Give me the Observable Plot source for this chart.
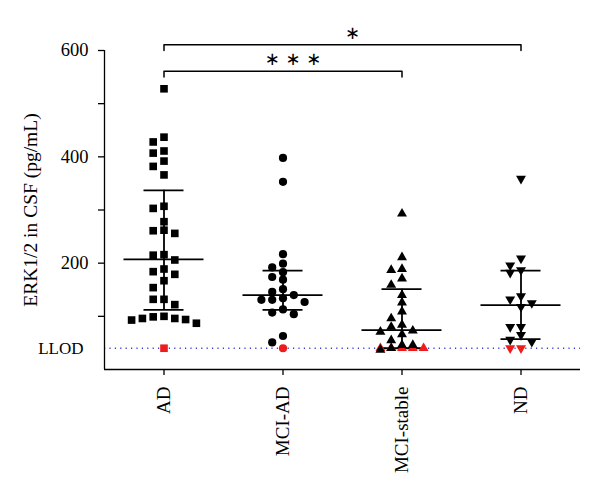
<!DOCTYPE html>
<html>
<head>
<meta charset="utf-8">
<script src="https://cdn.jsdelivr.net/npm/d3@7"></script>
<script src="https://cdn.jsdelivr.net/npm/@observablehq/plot@0.6"></script>
<style>
  body { margin: 0; background: #fff; }
  #chart svg { overflow: visible; }
</style>
</head>
<body>
<div id="chart"></div>
<script>
// ---- data ----
const groups = ["AD", "MCI-AD", "MCI-stable", "ND"];
const adValues = [528, 437, 428, 411, 407, 392, 382, 366, 307, 303, 278, 262, 261, 256,
  216, 215, 206, 189, 184, 179, 167, 154, 132, 132, 122, 100, 99, 96, 96, 94, 93, 87];
const mciAdValues = [398, 353, 217, 199, 192, 183, 174, 169, 151, 146, 140, 134, 131, 131,
  127, 113, 107, 104, 63, 51];
const mciStableValues = [293, 211, 189, 187, 171, 159, 140, 126, 109, 96, 84, 80, 73, 71,
  66, 55, 46, 46, 40, 37];
const ndValues = [359, 209, 196, 187, 182, 138, 132, 125, 118, 80, 80, 65, 56, 52];
const belowLlodCounts = [1, 1, 5, 2];
const llod = 40;
const centerValues = [207, 140, 74, 121];
const spreadLow = [112, 112, 40, 57];
const spreadHigh = [337, 186, 151, 186];
const yTicks = [100, 200, 300, 400, 500, 600];
const yTickLabels = [200, 400, 600];
const yLabel = "ERK1/2 in CSF (pg/mL)";
const llodLabel = "LLOD";
const comparisonFrom = ["AD", "AD"];
const comparisonTo = ["MCI-stable", "ND"];
const comparisonLabels = ["∗ ∗ ∗", "∗"];
const comparisonLevels = [561, 611];

// ---- layout / style constants ----
const W = 600, H = 495;
const mTop = 50, mBottom = 126, mLeft = 104, mRight = 20;
const serif = "Liberation Serif, Times New Roman, serif";
const sqrt3 = Math.sqrt(3);
const triangleDown = {
  draw(context, size) {
    const y = -Math.sqrt(size / (sqrt3 * 3));
    context.moveTo(0, -y * 2);
    context.lineTo(-sqrt3 * y, y);
    context.lineTo(sqrt3 * y, y);
    context.closePath();
  }
};
const shapes = ["square", "circle", "triangle", triangleDown];
const radii = [4.3, 4.1, 3.7, 3.7];
const red = "#ee1c1c";
const slotPx = 10.8;
const unitPx = (W - mLeft - mRight) / groups.length;
const slot = slotPx / unitPx;
const yPx = d3.scaleLinear([0, 600], [H - mBottom, mTop]);

// ---- beeswarm layout computed from the values ----
const allValues = [adValues, mciAdValues, mciStableValues, ndValues];
const points = [];
allValues.forEach((vals, gi) => {
  const items = vals.slice().sort((a, b) => b - a).map(v => ({v, red: false}));
  for (let k = 0; k < belowLlodCounts[gi]; k++) items.push({v: llod, red: true});
  const placed = [];
  const thr = 7.2;
  for (const it of items) {
    const py = yPx(it.v);
    let s = 0;
    for (let t = 0; t < 40; t++) {
      const cand = t === 0 ? 0 : (t % 2 ? -Math.ceil(t / 2) : Math.ceil(t / 2));
      const clash = placed.some(p => p.red === it.red && p.s === cand && Math.abs(p.py - py) < thr);
      if (!clash) { s = cand; break; }
    }
    placed.push({s, py, red: it.red});
    points.push({g: gi, x: gi + s * slot, v: it.v, red: it.red});
  }
});

const summary = groups.map((g, i) => ({i, c: centerValues[i], lo: spreadLow[i], hi: spreadHigh[i]}));
const brackets = [];
const bracketLabels = [];
comparisonFrom.forEach((f, k) => {
  const a = groups.indexOf(f), b = groups.indexOf(comparisonTo[k]);
  const L = comparisonLevels[k], drop = 11;
  [[a, L - drop], [a, L], [b, L], [b, L - drop]].forEach(([x, y]) => brackets.push({k, x, y}));
  bracketLabels.push({x: (a + b) / 2, y: L + 22, t: comparisonLabels[k]});
});

const marks = [
  Plot.ruleY([llod], {stroke: "#3b3bd6", strokeWidth: 1.6, strokeDasharray: "1.2 4.2"}),
  Plot.ruleY([0], {stroke: "#000", strokeWidth: 1.3}),
  Plot.ruleX([-0.5], {y1: 0, y2: 600, stroke: "#000", strokeWidth: 1.3}),
  Plot.axisY({ticks: yTicks, tickFormat: d => yTickLabels.includes(d) ? String(d) : "",
    tickSize: 6, tickPadding: 10, fontSize: 18.5, label: null, strokeWidth: 1.3}),
  Plot.axisY({ticks: [llod], tickFormat: () => llodLabel, tickSize: 0, tickPadding: 21,
    fontSize: 17, label: null}),
  Plot.axisX({ticks: [0, 1, 2, 3], tickFormat: i => groups[i], tickRotate: -90,
    tickSize: 6, tickPadding: 11, fontSize: 19, label: null, strokeWidth: 1.3}),
  Plot.text([yLabel], {frameAnchor: "left", rotate: -90, dx: -74, text: d => d,
    fontSize: 19.5, textAnchor: "middle", lineAnchor: "middle", fill: "#000"}),
  // error bars
  Plot.ruleX(summary, {x: "i", y1: "lo", y2: "hi", stroke: "#000", strokeWidth: 1.8}),
  Plot.ruleY(summary, {y: "c", x1: d => d.i - 40 / unitPx, x2: d => d.i + 40 / unitPx, stroke: "#000", strokeWidth: 1.8}),
  Plot.ruleY(summary, {y: "lo", x1: d => d.i - 20 / unitPx, x2: d => d.i + 20 / unitPx, stroke: "#000", strokeWidth: 1.8}),
  Plot.ruleY(summary, {y: "hi", x1: d => d.i - 20 / unitPx, x2: d => d.i + 20 / unitPx, stroke: "#000", strokeWidth: 1.8}),
  // brackets
  Plot.line(brackets, {x: "x", y: "y", z: "k", stroke: "#000", strokeWidth: 1.5}),
  Plot.text(bracketLabels, {x: "x", y: "y", text: "t", dx: 10, fontSize: 18,
    fontFamily: "DejaVu Sans", fill: "#000"})
];
groups.forEach((g, gi) => {
  marks.push(Plot.dot(points.filter(p => p.g === gi && p.red), {x: "x", y: "v",
    symbol: shapes[gi], r: radii[gi], fill: red, stroke: "none"}));
  marks.push(Plot.dot(points.filter(p => p.g === gi && !p.red), {x: "x", y: "v",
    symbol: shapes[gi], r: radii[gi], fill: "#000", stroke: "none"}));
});

const chart = Plot.plot({
  width: W, height: H,
  marginTop: mTop, marginBottom: mBottom, marginLeft: mLeft, marginRight: mRight,
  style: {fontFamily: serif, fontSize: "18px", background: "#fff", color: "#000"},
  x: {type: "linear", domain: [-0.5, 3.5], axis: null},
  y: {domain: [0, 600], axis: null},
  marks
});
document.getElementById("chart").appendChild(chart);
</script>
</body>
</html>
